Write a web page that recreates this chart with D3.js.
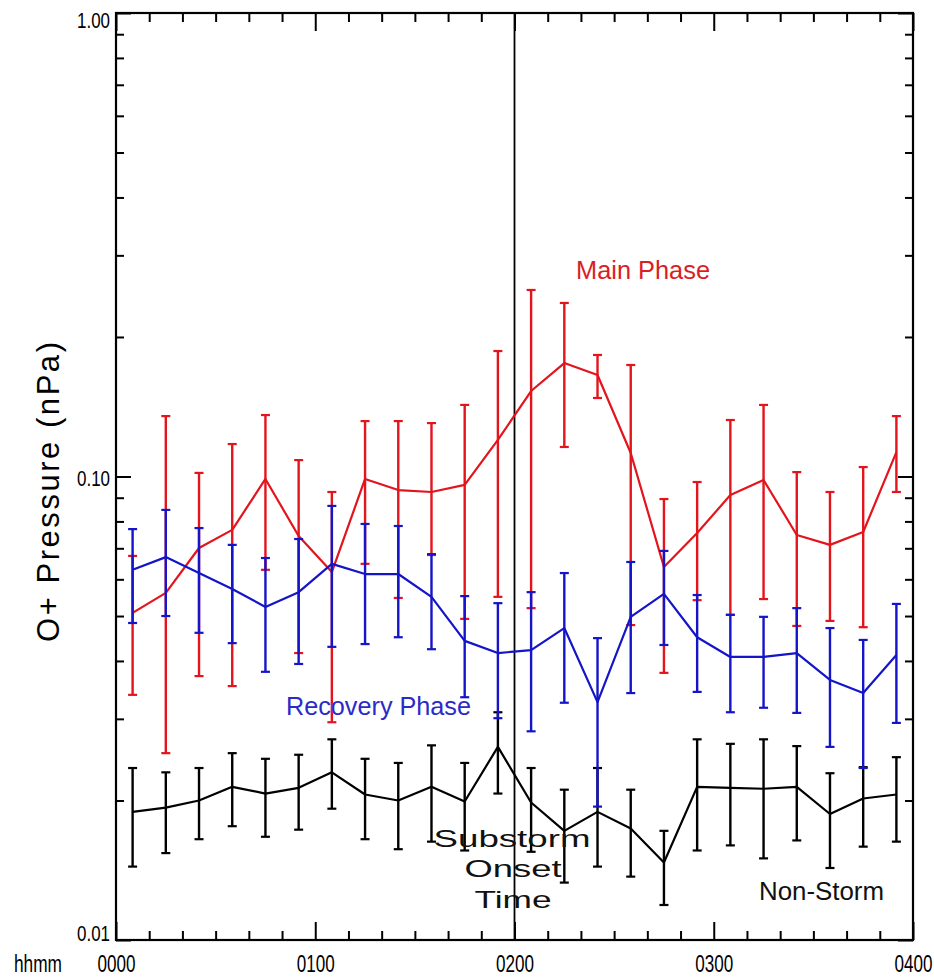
<!DOCTYPE html>
<html><head><meta charset="utf-8">
<script src="https://cdn.jsdelivr.net/npm/d3@7"></script>
<style>html,body{margin:0;padding:0;background:#fff;} svg{display:block;}</style>
</head><body>
<svg id="chart" width="934" height="978"></svg>
<script>
// ---- data (time in minutes after 0000, pressure in nPa) ----
const timeMinutes = [5,15,25,35,45,55,65,75,85,95,105,115,125,135,145,155,165,175,185,195,205,215,225,235];

const mainPhase = [0.0508,0.0561,0.0701,0.0767,0.0988,0.0744,0.0622,0.0988,0.0935,0.0926,0.0959,0.1199,0.1529,0.1757,0.1656,0.1124,0.0638,0.0755,0.0912,0.0983,0.0748,0.0712,0.0759,0.1129];
const mainUpper = [0.0674,0.135,0.1018,0.1175,0.1357,0.1085,0.0926,0.1317,0.1317,0.1304,0.1427,0.1865,0.2526,0.2368,0.1829,0.174,0.0894,0.0973,0.1324,0.1427,0.1022,0.0926,0.1048,0.135];
const mainLower = [0.0338,0.0253,0.0371,0.0353,0.0629,0.0416,0.0295,0.0648,0.0547,0.0677,0.0493,0.055,0.052,0.1158,0.1477,0.0478,0.0377,0.0541,0.0503,0.0544,0.0476,0.0488,0.0473,0.0926];

const recoveryPhase = [0.0629,0.067,0.0619,0.0572,0.0523,0.0563,0.0648,0.0616,0.0616,0.055,0.0442,0.0416,0.0422,0.0471,0.0326,0.0498,0.0558,0.045,0.0408,0.0408,0.0416,0.0364,0.0341,0.0412];
const recoveryUpper = [0.077,0.0847,0.0774,0.0712,0.0667,0.0733,0.0864,0.079,0.0782,0.068,0.0552,0.0533,0.0563,0.0619,0.0448,0.0654,0.0691,0.0555,0.0503,0.0498,0.052,0.0471,0.0444,0.0531];
const recoveryLower = [0.0483,0.05,0.046,0.0437,0.0379,0.0394,0.0429,0.0435,0.045,0.0424,0.0334,0.0301,0.0282,0.0325,0.0194,0.0341,0.0433,0.0343,0.031,0.0317,0.0309,0.0261,0.0235,0.0294];

const nonStorm = [0.0189,0.0193,0.02,0.0214,0.0207,0.0213,0.023,0.0206,0.02,0.0214,0.0199,0.0261,0.0198,0.0172,0.0189,0.0174,0.0147,0.0214,0.0213,0.0212,0.0214,0.0187,0.0202,0.0206];
const nonStormUpper = [0.0235,0.023,0.0235,0.0253,0.0246,0.0251,0.0271,0.0246,0.0241,0.0263,0.0241,0.031,0.0235,0.0211,0.0235,0.0211,0.0172,0.0271,0.0265,0.0271,0.0262,0.0229,0.0236,0.0248];
const nonStormLower = [0.0144,0.0154,0.0165,0.0176,0.0167,0.0173,0.0192,0.0165,0.0157,0.0163,0.0156,0.0207,0.0155,0.0133,0.0144,0.0137,0.0119,0.0156,0.016,0.015,0.0164,0.0143,0.0159,0.0163];

const xTickValues = [0,60,120,180,240];
const xTickLabels = ["0000","0100","0200","0300","0400"];
const yTickValues = [0.01,0.1,1];
const yTickLabels = ["0.01","0.10","1.00"];
const onsetMinutes = 120;

// ---- drawing ----
const svg = d3.select("#chart");
const L = 116, R = 913, T = 13, B = 940;
const x = d3.scaleLinear().domain([0,240]).range([L,R]);
const y = d3.scaleLog().domain([0.01,1]).range([B,T]);

const RED = "#e3141c", BLUE = "#1414c8", BLACK = "#000";
const FONT = "'Liberation Sans', Arial, Helvetica, sans-serif";

const minorX = d3.range(0,241,10).filter(v => v % 60 !== 0);
const minorY = [];
[0.01,0.1].forEach(dec => { for (let k=2;k<=9;k++) minorY.push(dec*k); });

function styleAxis(g){
  g.select(".domain").remove();
  g.selectAll(".tick line").attr("stroke","#000").attr("stroke-width",2);
}

// bottom axis
svg.append("g").attr("transform",`translate(0,${B})`)
  .call(d3.axisBottom(x).tickValues(minorX).tickSize(-9).tickFormat(""))
  .call(styleAxis);
const bx = svg.append("g").attr("transform",`translate(0,${B})`)
  .call(d3.axisBottom(x).tickValues(xTickValues).tickSize(-18).tickFormat((d,i)=>xTickLabels[i]))
  .call(styleAxis);
bx.selectAll(".tick text")
  .attr("y",32).attr("dy",0)
  .attr("font-family",FONT).attr("font-size",23).attr("fill","#000")
  .attr("textLength",38).attr("lengthAdjust","spacingAndGlyphs");

// top axis
svg.append("g").attr("transform",`translate(0,${T})`)
  .call(d3.axisTop(x).tickValues(minorX).tickSize(-9).tickFormat(""))
  .call(styleAxis);
svg.append("g").attr("transform",`translate(0,${T})`)
  .call(d3.axisTop(x).tickValues(xTickValues).tickSize(-18).tickFormat(""))
  .call(styleAxis);

// left axis
svg.append("g").attr("transform",`translate(${L},0)`)
  .call(d3.axisLeft(y).tickValues(minorY).tickSize(-8).tickFormat(""))
  .call(styleAxis);
const ly = svg.append("g").attr("transform",`translate(${L},0)`)
  .call(d3.axisLeft(y).tickValues(yTickValues).tickSize(-15).tickFormat((d,i)=>yTickLabels[i]))
  .call(styleAxis);
ly.selectAll(".tick text")
  .attr("x",-6).attr("dy",0)
  .attr("y", d => d >= 1 ? 14 : (d <= 0.01 ? 0 : 8.5))
  .attr("font-family",FONT).attr("font-size",22).attr("fill","#000")
  .attr("textLength",33).attr("lengthAdjust","spacingAndGlyphs");

// right axis
svg.append("g").attr("transform",`translate(${R},0)`)
  .call(d3.axisRight(y).tickValues(minorY).tickSize(-8).tickFormat(""))
  .call(styleAxis);
svg.append("g").attr("transform",`translate(${R},0)`)
  .call(d3.axisRight(y).tickValues(yTickValues).tickSize(-15).tickFormat(""))
  .call(styleAxis);

// frame
svg.append("rect").attr("x",L).attr("y",T).attr("width",R-L).attr("height",B-T)
  .attr("fill","none").attr("stroke","#000").attr("stroke-width",2.2);

// onset line
svg.append("line").attr("x1",x(onsetMinutes)).attr("x2",x(onsetMinutes))
  .attr("y1",T).attr("y2",B).attr("stroke","#000").attr("stroke-width",1.8);

// series
function drawSeries(vals, upper, lower, color){
  const g = svg.append("g");
  const rows = timeMinutes.map((t,i)=>({t, v:vals[i], hi:upper[i], lo:lower[i]}));
  g.append("path").datum(rows)
    .attr("d", d3.line().x(d=>x(d.t)).y(d=>y(d.v)))
    .attr("fill","none").attr("stroke",color).attr("stroke-width",2.2).attr("stroke-linejoin","round");
  const eb = g.selectAll(".eb").data(rows).enter().append("g");
  eb.append("line").attr("x1",d=>x(d.t)).attr("x2",d=>x(d.t))
    .attr("y1",d=>y(d.hi)).attr("y2",d=>y(d.lo))
    .attr("stroke",color).attr("stroke-width",2.4);
  ["hi","lo"].forEach(k=>{
    eb.append("line").attr("x1",d=>x(d.t)-4.5).attr("x2",d=>x(d.t)+4.5)
      .attr("y1",d=>y(d[k])).attr("y2",d=>y(d[k]))
      .attr("stroke",color).attr("stroke-width",2.2);
  });
}
drawSeries(nonStorm, nonStormUpper, nonStormLower, BLACK);
drawSeries(mainPhase, mainUpper, mainLower, RED);
drawSeries(recoveryPhase, recoveryUpper, recoveryLower, BLUE);

// text labels
function label(txt, xx, yy, size, color, len, anchor, adj){
  return svg.append("text").attr("x",xx).attr("y",yy)
    .attr("font-family",FONT).attr("font-size",size).attr("fill",color)
    .attr("text-anchor",anchor||"start")
    .attr("textLength",len).attr("lengthAdjust",adj||"spacingAndGlyphs")
    .text(txt);
}
label("hhmm", 14, 972, 23, "#000", 48);
label("Main Phase", 576, 279, 25, "#d81e26", 134);
label("Recovery Phase", 286, 715, 25, "#2a2ac8", 185);
label("Non-Storm", 759, 900, 25, "#111", 125);
label("Substorm", 512, 847, 24, "#111", 157, "middle");
label("Onset", 513, 877, 24, "#111", 97, "middle");
label("Time", 513, 908, 24, "#111", 77, "middle");

svg.append("text")
  .attr("transform","translate(59,492) rotate(-90)")
  .attr("text-anchor","middle")
  .attr("font-family",FONT).attr("font-size",31).attr("fill","#000")
  .attr("textLength",300).attr("lengthAdjust","spacing")
  .text("O+ Pressure (nPa)");
</script>
</body></html>
